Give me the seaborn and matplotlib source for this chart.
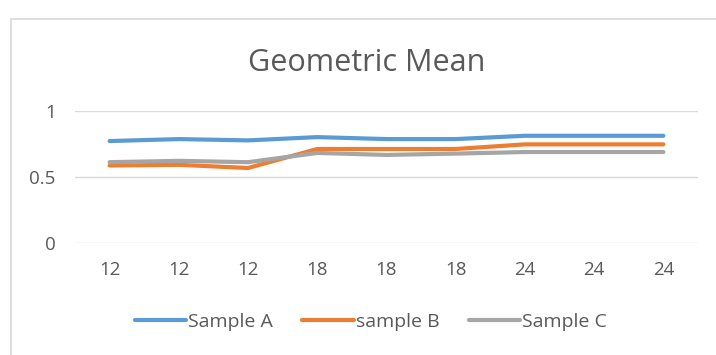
import matplotlib
matplotlib.use("Agg")
import matplotlib.pyplot as plt
from matplotlib.lines import Line2D
import numpy as np
import pandas as pd
import seaborn as sns

# Sample data: hour labels along the x axis and geometric means per sample
hours = ["12", "12", "12", "18", "18", "18", "24", "24", "24"]
sample_a = [0.77, 0.785, 0.775, 0.80, 0.785, 0.785, 0.81, 0.81, 0.81]
sample_b = [0.585, 0.59, 0.566, 0.71, 0.71, 0.71, 0.745, 0.745, 0.745]
sample_c = [0.61, 0.62, 0.61, 0.68, 0.665, 0.675, 0.687, 0.687, 0.687]
series_names = ["Sample A", "sample B", "Sample C"]
colors = ["#5B9BD5", "#ED7D31", "#A5A5A5"]

pos = np.arange(len(hours))
df = pd.concat([
    pd.DataFrame({"pos": pos, "value": vals, "series": name})
    for name, vals in zip(series_names, [sample_a, sample_b, sample_c])
])

sns.set_theme(style="white")
plt.rcParams["font.family"] = ["Open Sans", "DejaVu Sans"]

W, H = 716, 355
fig = plt.figure(figsize=(W / 100, H / 100), dpi=100)
fig.patch.set_facecolor("white")

# chart frame (left and top edges visible)
fig.add_artist(Line2D([11 / W, 11 / W], [0, 1 - 19 / H], transform=fig.transFigure,
                      color="#D9D9D9", lw=1.2))
fig.add_artist(Line2D([11 / W, 1], [1 - 19 / H, 1 - 19 / H], transform=fig.transFigure,
                      color="#D9D9D9", lw=1.2))

left, right = 75 / W, 698 / W
bottom, top = 1 - 242.7 / H, 1 - 110.7 / H
ax = fig.add_axes([left, bottom, right - left, top - bottom])

sns.lineplot(data=df, x="pos", y="value", hue="series", palette=colors,
             linewidth=3.0, ax=ax, legend=False, zorder=3)
for ln in ax.lines:
    ln.set_solid_capstyle("round")
    ln.set_solid_joinstyle("round")

ax.set_xlim(-0.5, len(hours) - 0.5)
ax.set_ylim(0, 1)
ax.set_yticks([0, 0.5, 1])
ax.set_yticklabels(["0", "0.5", "1"])
ax.set_xticks(pos)
ax.set_xticklabels(hours)
ax.set_xlabel("")
ax.set_ylabel("")
for s in ax.spines.values():
    s.set_visible(False)
ax.yaxis.grid(True, color="#D9D9D9", lw=1.0)
ax.set_axisbelow(True)
ax.tick_params(axis="both", length=0, labelsize=13.5, colors="#595959")
ax.tick_params(axis="x", pad=13)
ax.tick_params(axis="y", pad=14)

fig.text(367 / W, 1 - 71 / H, "Geometric Mean", ha="center", va="baseline",
         fontsize=22, color="#595959")

handles = [Line2D([], [], color=c, lw=3.0, solid_capstyle="round") for c in colors]
fig.legend(handles, series_names, loc="center", bbox_to_anchor=(371 / W, 1 - 322 / H),
           ncol=3, frameon=False, fontsize=14, labelcolor="#595959",
           handlelength=2.65, handletextpad=0.1, columnspacing=1.5)

fig.savefig("out.png", dpi=100, facecolor="white")
